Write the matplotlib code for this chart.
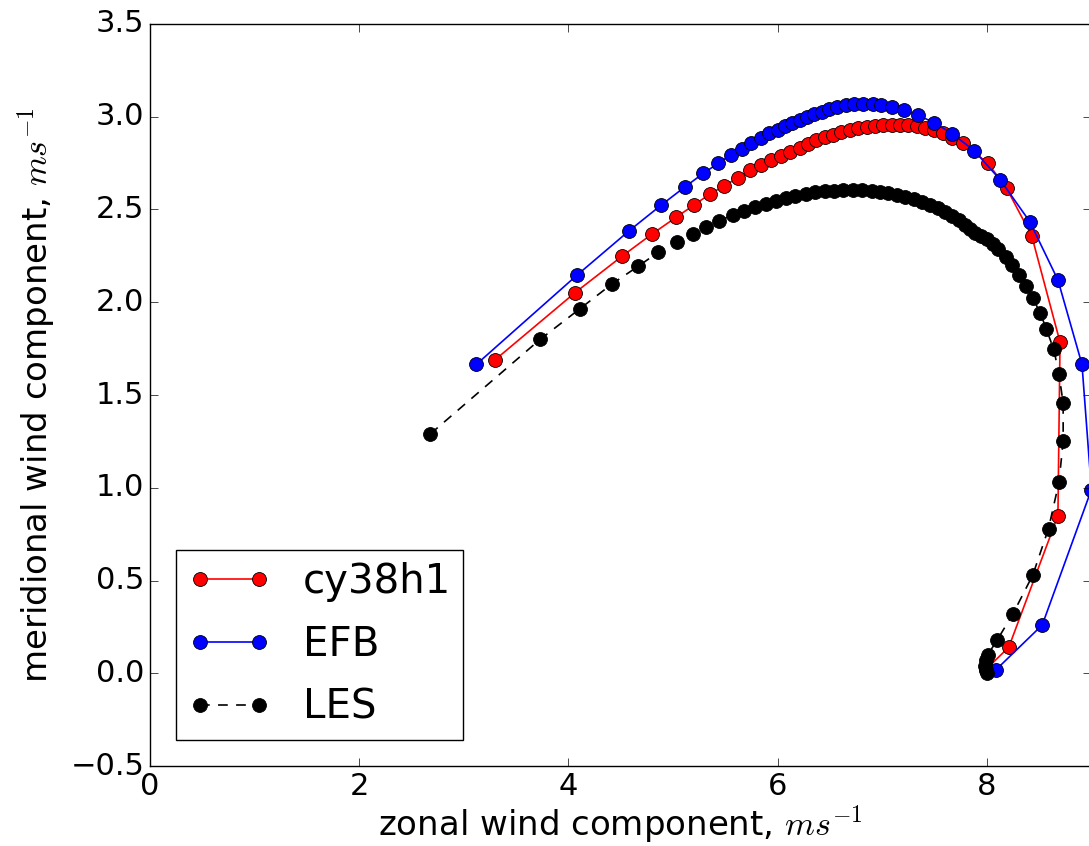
import matplotlib
matplotlib.use("Agg")
from matplotlib import pyplot as plt

# hodograph data: zonal (u) and meridional (v) wind, ms^-1
u_cy38h1 = [3.30, 4.06, 4.51, 4.80, 5.03, 5.20, 5.35, 5.49, 5.62, 5.74, 5.84, 5.94,
            6.03, 6.12, 6.21, 6.29, 6.37, 6.45, 6.53, 6.61, 6.69, 6.77, 6.85, 6.93,
            7.01, 7.09, 7.17, 7.25, 7.33, 7.41, 7.50, 7.58, 7.67, 7.77, 8.01, 8.19,
            8.43, 8.70, 8.68, 8.21, 7.99]
v_cy38h1 = [1.69, 2.05, 2.247, 2.368, 2.458, 2.524, 2.582, 2.628, 2.671, 2.713, 2.740, 2.767,
            2.788, 2.812, 2.833, 2.854, 2.874, 2.890, 2.904, 2.917, 2.928, 2.937, 2.945, 2.951,
            2.955, 2.957, 2.957, 2.954, 2.949, 2.940, 2.927, 2.910, 2.887, 2.857, 2.75, 2.614,
            2.357, 1.785, 0.85, 0.14, 0.02]

u_efb = [3.12, 4.08, 4.58, 4.89, 5.11, 5.29, 5.43, 5.55, 5.66, 5.75, 5.84, 5.92,
         6.00, 6.07, 6.14, 6.21, 6.28, 6.35, 6.42, 6.49, 6.57, 6.65, 6.73, 6.82,
         6.91, 6.99, 7.09, 7.21, 7.34, 7.50, 7.67, 7.88, 8.13, 8.41, 8.68, 8.91,
         9.00, 8.53, 8.09]
v_efb = [1.665, 2.145, 2.385, 2.525, 2.62, 2.695, 2.748, 2.794, 2.828, 2.86, 2.887, 2.912,
         2.93, 2.95, 2.967, 2.985, 3.0, 3.015, 3.028, 3.04, 3.052, 3.061, 3.067, 3.07,
         3.068, 3.063, 3.052, 3.035, 3.008, 2.968, 2.908, 2.817, 2.659, 2.435, 2.12, 1.665,
         0.99, 0.26, 0.02]

u_les = [2.68, 3.73, 4.11, 4.42, 4.67, 4.86, 5.04, 5.19, 5.32, 5.44, 5.57, 5.68,
         5.78, 5.89, 5.98, 6.08, 6.17, 6.27, 6.36, 6.45, 6.54, 6.63, 6.72, 6.81,
         6.90, 6.98, 7.06, 7.14, 7.22, 7.30, 7.38, 7.46, 7.53, 7.60, 7.67, 7.73,
         7.79, 7.84, 7.89, 7.94, 8.00, 8.06, 8.11, 8.18, 8.24, 8.31, 8.37, 8.44,
         8.51, 8.57, 8.64, 8.69, 8.73, 8.73, 8.69, 8.59, 8.44, 8.25, 8.10, 8.01,
         7.99, 7.98, 7.99, 8.00]
v_les = [1.29, 1.80, 1.965, 2.10, 2.195, 2.27, 2.325, 2.37, 2.408, 2.44, 2.468, 2.492,
         2.513, 2.532, 2.548, 2.562, 2.574, 2.584, 2.592, 2.598, 2.602, 2.604, 2.605, 2.604,
         2.601, 2.596, 2.589, 2.58, 2.569, 2.556, 2.541, 2.524, 2.506, 2.486, 2.464, 2.441,
         2.417, 2.394, 2.373, 2.356, 2.34, 2.315, 2.285, 2.246, 2.201, 2.147, 2.088, 2.021,
         1.944, 1.854, 1.746, 1.613, 1.455, 1.25, 1.03, 0.78, 0.53, 0.32, 0.18, 0.10,
         0.07, 0.04, 0.015, 0.0]

plt.style.use('classic')
plt.rcParams['mathtext.fontset'] = 'cm'
plt.rcParams['font.family'] = ['DejaVu Sans']

fig = plt.figure(figsize=(10.89, 8.46), dpi=100, facecolor='white')
ax = fig.add_axes([150/1089, 80/846, 941.4/1089, 742/846])

ms = 10
ax.plot(u_cy38h1, v_cy38h1, 'r-o', lw=1.2, ms=ms, mec='k', mew=0.6, label='cy38h1')
ax.plot(u_efb, v_efb, 'b-o', lw=1.2, ms=ms, mec='k', mew=0.6, label='EFB')
ax.plot(u_les, v_les, 'k--o', lw=1.2, ms=ms, mec='k', mew=0.6, dashes=(7, 6), label='LES')

ax.set_xlim(0, 9)
ax.set_ylim(-0.5, 3.5)
ax.set_xticks([0, 2, 4, 6, 8])
ax.set_yticks([-0.5, 0.0, 0.5, 1.0, 1.5, 2.0, 2.5, 3.0, 3.5])
ax.tick_params(labelsize=22, length=6)

ax.set_xlabel('zonal wind component, $ms^{-1}$', fontsize=24.5, labelpad=2)
ax.set_ylabel('meridional wind component, $ms^{-1}$', fontsize=24.5, labelpad=10)

leg = ax.legend(loc='lower left', fontsize=29, numpoints=2, handlelength=2.05,
                borderaxespad=0.65, labelspacing=0.57, handletextpad=0.8,
                borderpad=0.3)
leg.get_frame().set_linewidth(1.0)

plt.savefig('out.png', dpi=100, facecolor='white')
